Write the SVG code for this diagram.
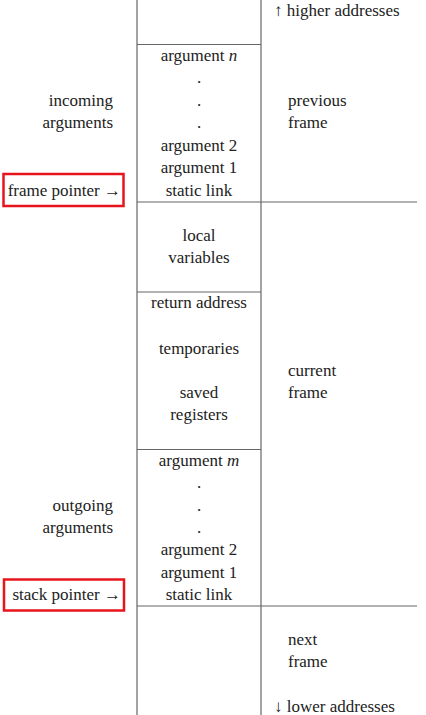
<svg xmlns="http://www.w3.org/2000/svg" width="426" height="715" viewBox="0 0 426 715">
<style>
text{font-family:'Liberation Serif','Times New Roman',Times,'DejaVu Serif','Noto Serif',Tinos,serif;font-size:17px;fill:#222}
.c{text-anchor:middle}
.r{text-anchor:end}
.ln{stroke:#666;stroke-width:1.2;fill:none}
.hl{fill:none;stroke:#e8141c;stroke-width:2.5}
</style>
<rect width="426" height="715" fill="#fff"/>
<g id="connectors">
<line class="ln" x1="137" y1="0" x2="137" y2="715"/>
<line class="ln" x1="261" y1="0" x2="261" y2="715"/>
<line class="ln" x1="137" y1="44.5" x2="261" y2="44.5"/>
<line class="ln" x1="137" y1="202" x2="417" y2="202"/>
<line class="ln" x1="137" y1="292" x2="261" y2="292"/>
<line class="ln" x1="137" y1="449.5" x2="261" y2="449.5"/>
<line class="ln" x1="137" y1="606" x2="417" y2="606"/>
</g>
<g id="higher"><text x="274" y="16">↑ higher addresses</text></g>
<g id="incoming-args-block">
<text class="c" x="199" y="61">argument <tspan font-style="italic">n</tspan></text>
<text class="c" x="199" y="83">.</text>
<text class="c" x="199" y="106">.</text>
<text class="c" x="199" y="128">.</text>
<text class="c" x="199" y="151">argument 2</text>
<text class="c" x="199" y="173">argument 1</text>
<text class="c" x="199" y="196">static link</text>
</g>
<g id="incoming-label"><text class="r" x="113" y="106">incoming</text><text class="r" x="113" y="128">arguments</text></g>
<g id="previous-frame"><text x="288" y="106">previous</text><text x="288" y="128">frame</text></g>
<g id="frame-pointer"><rect class="hl" x="3.5" y="174" width="120" height="32"/><text class="r" x="121" y="196">frame pointer →</text></g>
<g id="locals"><text class="c" x="199" y="241">local</text><text class="c" x="199" y="263">variables</text></g>
<g id="saved-block">
<text class="c" x="199" y="308">return address</text>
<text class="c" x="199" y="354">temporaries</text>
<text class="c" x="199" y="398">saved</text>
<text class="c" x="199" y="420">registers</text>
</g>
<g id="current-frame"><text x="288" y="376">current</text><text x="288" y="398">frame</text></g>
<g id="outgoing-args-block">
<text class="c" x="199" y="466">argument <tspan font-style="italic">m</tspan></text>
<text class="c" x="199" y="488">.</text>
<text class="c" x="199" y="511">.</text>
<text class="c" x="199" y="533">.</text>
<text class="c" x="199" y="555">argument 2</text>
<text class="c" x="199" y="578">argument 1</text>
<text class="c" x="199" y="600">static link</text>
</g>
<g id="outgoing-label"><text class="r" x="113" y="511">outgoing</text><text class="r" x="113" y="533">arguments</text></g>
<g id="stack-pointer"><rect class="hl" x="4" y="579.5" width="120" height="31"/><text class="r" x="121" y="600">stack pointer →</text></g>
<g id="next-frame"><text x="288" y="645">next</text><text x="288" y="667">frame</text></g>
<g id="lower"><text x="274" y="712">↓ lower addresses</text></g>
</svg>
